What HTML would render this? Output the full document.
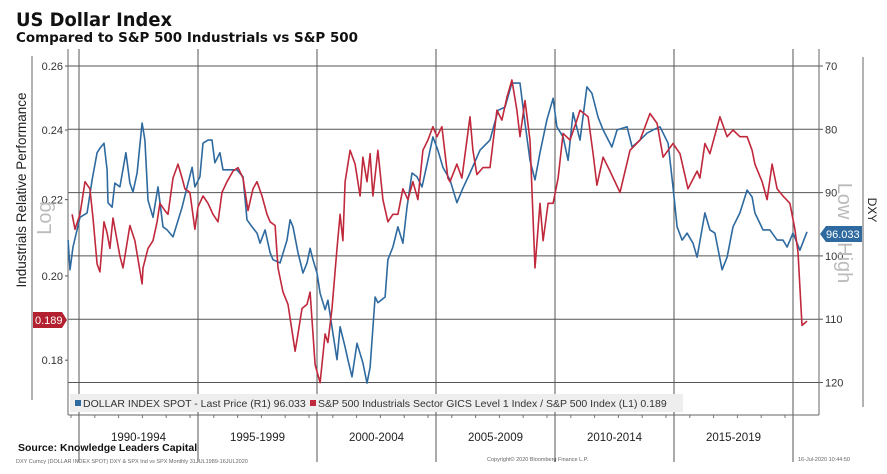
<!DOCTYPE html>
<html><head><meta charset="utf-8"><style>
body{margin:0;background:#fff;width:887px;height:474px;overflow:hidden;font-family:"Liberation Sans",sans-serif}
svg{position:absolute;left:0;top:0}
</style></head><body>
<svg id="c" width="887" height="474" xmlns="http://www.w3.org/2000/svg">
<text x="16" y="26" font-size="19" font-weight="bold" fill="#111" font-family="DejaVu Sans, sans-serif" textLength="156" lengthAdjust="spacingAndGlyphs">US Dollar Index</text>
<text x="16" y="42" font-size="13" font-weight="bold" fill="#111" font-family="DejaVu Sans, sans-serif" textLength="342" lengthAdjust="spacingAndGlyphs">Compared to S&amp;P 500 Industrials vs S&amp;P 500</text>
<g id="grid"></g>
<g id="axes"></g>
<g id="series"></g>
<rect x="70" y="394" width="613" height="18" fill="#eeeeee"/>
<rect x="75" y="400" width="6" height="6" fill="#2e6a9f"/>
<text x="83" y="407" font-size="10.5" fill="#333">DOLLAR INDEX SPOT - Last Price (R1) 96.033</text>
<rect x="310" y="400" width="6" height="6" fill="#c0283c"/>
<text x="318" y="407" font-size="10.5" fill="#333">S&amp;P 500 Industrials Sector GICS Level 1 Index / S&amp;P 500 Index (L1) 0.189</text>
<text transform="translate(26,190) rotate(-90)" text-anchor="middle" font-size="13.5" fill="#222">Industrials Relative Performance</text>
<text transform="translate(51,218) rotate(-90)" text-anchor="middle" font-size="20" fill="#bbb">Log</text>
<text transform="translate(838,233) rotate(90)" text-anchor="middle" font-size="20" fill="#bbb">Low = High</text>
<text transform="translate(868,210) rotate(90)" text-anchor="middle" font-size="12" fill="#222">DXY</text>
<path d="M33,312 H62 L67,320 L62,328 H33 Z" fill="#b3202f"/>
<text x="35" y="324" font-size="11" fill="#fff">0.189</text>
<path d="M826,226 H862 V242 H826 L820,234 Z" fill="#2e6a9f"/>
<text x="826" y="238" font-size="11" fill="#fff">96.033</text>
<text x="18" y="451" font-size="10.5" font-weight="bold" fill="#111">Source: Knowledge Leaders Capital</text>
<text x="16" y="463" font-size="5.5" fill="#666">DXY Curncy (DOLLAR INDEX SPOT) DXY &amp; SPX Ind vs SPX  Monthly 31JUL1989-16JUL2020</text>
<text x="487" y="461" font-size="5.5" fill="#666">Copyright© 2020 Bloomberg Finance L.P.</text>
<text x="798" y="461" font-size="5.5" fill="#666">16-Jul-2020 10:44:50</text>
</svg>
<script>
const periodLabels=["1990-1994","1995-1999","2000-2004","2005-2009","2010-2014","2015-2019"];
const periodStarts=[1990,1995,2000,2005,2010,2015,2020];
const leftTicks=[0.26,0.24,0.22,0.20,0.18];
const rightTicks=[70,80,90,100,110,120];
const dxyDates=[1989.54,1989.62,1989.75,1990.04,1990.34,1990.55,1990.76,1990.88,1991.05,1991.18,1991.22,1991.39,1991.51,1991.72,1991.97,1992.14,1992.27,1992.44,1992.65,1992.77,1992.90,1993.11,1993.32,1993.53,1993.70,1993.95,1994.33,1994.54,1994.75,1994.87,1995.08,1995.21,1995.42,1995.59,1995.71,1995.92,1996.05,1996.34,1996.64,1996.89,1997.06,1997.27,1997.48,1997.61,1997.82,1998.03,1998.15,1998.45,1998.74,1998.87,1998.99,1999.20,1999.41,1999.58,1999.71,1999.83,2000.00,2000.13,2000.34,2000.46,2000.67,2000.84,2000.97,2001.18,2001.30,2001.47,2001.68,2001.93,2002.10,2002.23,2002.44,2002.56,2002.86,2002.98,2003.19,2003.40,2003.61,2003.78,2003.99,2004.20,2004.41,2004.66,2004.87,2005.08,2005.29,2005.59,2005.88,2006.13,2006.43,2006.85,2007.27,2007.61,2007.90,2008.19,2008.53,2008.74,2008.95,2009.16,2009.37,2009.66,2009.92,2010.08,2010.34,2010.55,2010.76,2011.05,2011.34,2011.55,2011.81,2012.02,2012.39,2012.61,2013.03,2013.24,2013.57,2013.87,2014.12,2014.41,2014.75,2014.96,2015.13,2015.34,2015.55,2015.80,2015.97,2016.30,2016.51,2016.72,2017.02,2017.23,2017.48,2017.77,2018.07,2018.28,2018.40,2018.74,2019.03,2019.33,2019.58,2019.75,2020.00,2020.29,2020.59];
const dxyValues=[97.5,102.2,98.6,93.9,93.2,88.0,83.7,83.0,82.2,86.4,91.6,92.3,88.5,89.1,83.7,88.5,89.9,86.9,79.0,81.7,91.2,93.9,89.1,95.4,95.9,97.0,92.3,89.1,86.0,89.1,87.5,82.2,81.7,81.7,85.3,83.7,86.4,86.4,86.4,87.5,94.3,95.4,96.4,98.0,95.9,99.5,100.6,101.1,97.5,94.3,95.4,99.5,102.7,101.1,98.8,100.6,102.7,105.9,108.5,107.0,112.2,116.4,111.2,114.4,116.4,119.1,113.8,116.9,120.1,117.6,106.5,107.4,106.5,100.6,98.6,95.4,98.0,92.3,86.9,87.5,89.1,84.9,81.2,83.3,86.0,88.0,91.6,89.3,86.9,83.3,81.7,77.0,76.5,72.7,72.7,79.0,84.9,88.0,83.7,78.5,75.1,79.6,81.2,84.9,77.4,81.7,73.3,74.3,78.1,80.1,82.8,80.1,79.6,82.8,81.7,80.6,80.1,79.6,82.2,89.1,95.4,97.5,96.4,98.0,100.2,93.2,95.9,96.4,102.2,100.2,95.4,93.2,89.6,90.7,93.2,95.9,95.9,97.5,97.5,98.6,96.4,99.1,96.2];
const indDates=[1989.71,1989.83,1990.04,1990.25,1990.46,1990.59,1990.76,1990.88,1991.05,1991.18,1991.30,1991.43,1991.60,1991.72,1991.85,1992.14,1992.35,1992.65,1992.69,1992.90,1993.11,1993.28,1993.40,1993.61,1993.74,1993.95,1994.16,1994.33,1994.45,1994.66,1994.87,1995.00,1995.21,1995.42,1995.63,1995.84,1996.01,1996.22,1996.47,1996.68,1996.89,1997.10,1997.31,1997.48,1997.69,1997.90,1998.03,1998.24,1998.36,1998.57,1998.78,1999.08,1999.20,1999.37,1999.58,1999.71,1999.92,2000.13,2000.34,2000.46,2000.63,2000.84,2000.97,2001.09,2001.18,2001.39,2001.60,2001.81,2001.93,2002.10,2002.23,2002.35,2002.56,2002.77,2002.98,2003.19,2003.40,2003.61,2003.82,2004.03,2004.24,2004.45,2004.66,2004.87,2005.04,2005.25,2005.50,2005.59,2005.88,2006.09,2006.43,2006.55,2006.72,2006.97,2007.27,2007.56,2007.77,2007.98,2008.19,2008.40,2008.53,2008.74,2008.95,2009.16,2009.37,2009.50,2009.71,2009.92,2010.13,2010.34,2010.63,2010.92,2011.05,2011.39,2011.60,2011.76,2012.02,2012.31,2012.73,2013.15,2013.57,2013.99,2014.29,2014.54,2014.96,2015.25,2015.59,2015.97,2016.09,2016.30,2016.51,2016.93,2017.23,2017.48,2017.77,2018.07,2018.28,2018.40,2018.70,2018.91,2019.12,2019.33,2019.58,2019.87,2020.08,2020.21,2020.38,2020.59];
const indValues=[0.216,0.212,0.216,0.225,0.223,0.215,0.203,0.201,0.214,0.211,0.207,0.215,0.209,0.205,0.202,0.213,0.209,0.198,0.202,0.207,0.209,0.214,0.219,0.217,0.216,0.226,0.230,0.226,0.223,0.222,0.212,0.218,0.221,0.219,0.216,0.214,0.222,0.225,0.228,0.229,0.226,0.217,0.223,0.225,0.221,0.216,0.214,0.213,0.202,0.196,0.193,0.182,0.186,0.192,0.193,0.196,0.179,0.175,0.186,0.184,0.192,0.207,0.216,0.209,0.225,0.234,0.230,0.221,0.232,0.225,0.233,0.221,0.234,0.220,0.214,0.216,0.216,0.223,0.220,0.225,0.220,0.234,0.237,0.241,0.238,0.241,0.226,0.225,0.230,0.226,0.244,0.234,0.227,0.229,0.229,0.246,0.243,0.250,0.2555,0.246,0.238,0.249,0.237,0.202,0.219,0.209,0.219,0.219,0.226,0.239,0.237,0.243,0.246,0.244,0.233,0.224,0.232,0.228,0.222,0.234,0.237,0.245,0.242,0.232,0.236,0.233,0.223,0.228,0.226,0.236,0.233,0.244,0.238,0.240,0.238,0.238,0.234,0.230,0.225,0.220,0.230,0.223,0.221,0.219,0.212,0.206,0.188,0.189];

const NS="http://www.w3.org/2000/svg";
const L=68,R=819,T=49,B=415;
function xScale(yr){return 79+(yr-1990)*23.8;}
function yRight(v){return 66+(v-70)*6.33;}
function yLeft(v){return 66-Math.log(v/0.26)*800;}
function mk(tag,attrs,parent){const e=document.createElementNS(NS,tag);for(const k in attrs)e.setAttribute(k,attrs[k]);parent.appendChild(e);return e;}
const grid=document.getElementById('grid'),axes=document.getElementById('axes'),series=document.getElementById('series');

rightTicks.forEach(v=>{
  const y=yRight(v);
  const g=mk('line',{x1:L,x2:R,y1:y,y2:y,stroke:'#555','stroke-width':1},grid);
  
  
  const t=mk('line',{x1:R,x2:R+4,y1:y,y2:y,stroke:'#555'},axes);
  
  
  const lb=mk('text',{x:R+6,y:y+4,'font-size':11,fill:'#333'},axes);
  lb.textContent=v;
  
  
});
leftTicks.forEach(v=>{
  const y=yLeft(v);
  const t=mk('line',{x1:L-3,x2:L,y1:y,y2:y,stroke:'#555'},axes);
  
  
  const lb=mk('text',{x:L-5,y:y+4,'font-size':11,fill:'#333','text-anchor':'end'},axes);
  lb.textContent=v.toFixed(2);
  
  
});
periodStarts.forEach(yr=>{
  const x=xScale(yr);
  const g=mk('line',{x1:x,x2:x,y1:T,y2:462,stroke:'#555','stroke-width':1},grid);
  
  
});
periodLabels.forEach((s,i)=>{
  const x=(xScale(periodStarts[i])+xScale(periodStarts[i+1]))/2;
  const lb=mk('text',{x:x,y:441,'font-size':11.5,fill:'#222','text-anchor':'middle'},axes);
  lb.textContent=s;
  
  
});
for(let yr=1990;yr<=2020;yr++){
  const x=xScale(yr)-8;
  const t=mk('line',{x1:x,x2:x,y1:B,y2:B+3,stroke:'#777'},axes);
  
  
}
[[L,T,L,B],[R,T,R,B],[L,B,R,B],[32,56,32,400],[863,57,863,407]].forEach(a=>{
  const ln=mk('line',{x1:a[0],y1:a[1],x2:a[2],y2:a[3],stroke:'#666','stroke-width':1},axes);
  
  
});
const dPath=dxyDates.map((d,i)=>(i?'L':'M')+xScale(d).toFixed(1)+','+yRight(dxyValues[i]).toFixed(1)).join('');
const p1=mk('path',{d:dPath,fill:'none',stroke:'#2e6a9f','stroke-width':1.6,'stroke-linejoin':'round'},series);


const iPath=indDates.map((d,i)=>(i?'L':'M')+xScale(d).toFixed(1)+','+yLeft(indValues[i]).toFixed(1)).join('');
const p2=mk('path',{d:iPath,fill:'none',stroke:'#c0283c','stroke-width':1.6,'stroke-linejoin':'round'},series);


</script>
</body></html>
